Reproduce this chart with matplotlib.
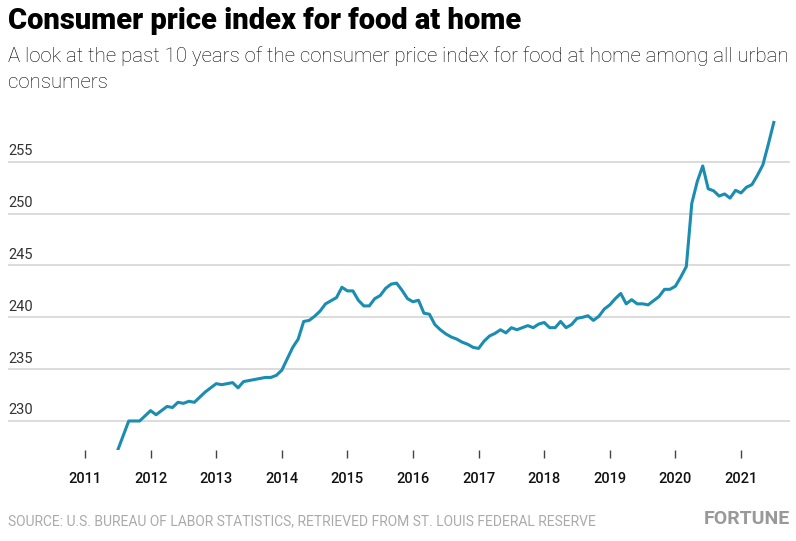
import numpy as np
import matplotlib
matplotlib.use("Agg")
import matplotlib.pyplot as plt
import matplotlib.transforms as mtransforms

# ----------------------------------------------------------------------------------------------------------------------
# CPI food at home, monthly, Jul 2011 - Jul 2021
cpi_2011 = [227.2, 228.6, 230.0, 230.0, 230.0, 230.5]
cpi_2012 = [231.0, 230.6, 231.0, 231.4, 231.3, 231.8, 231.7, 231.9, 231.8, 232.3, 232.8, 233.2]
cpi_2013 = [233.6, 233.5, 233.6, 233.7, 233.2, 233.8, 233.9, 234.0, 234.1, 234.2, 234.2, 234.4]
cpi_2014 = [234.9, 236.0, 237.1, 237.9, 239.6, 239.7, 240.1, 240.6, 241.3, 241.6, 241.9, 242.9]
cpi_2015 = [242.55, 242.55, 241.65, 241.1, 241.1, 241.8, 242.1, 242.8, 243.2, 243.3, 242.6, 241.8]
cpi_2016 = [241.5, 241.65, 240.4, 240.3, 239.3, 238.8, 238.4, 238.1, 237.9, 237.6, 237.4, 237.1]
cpi_2017 = [237.0, 237.7, 238.2, 238.45, 238.8, 238.5, 239.0, 238.8, 239.0, 239.2, 239.0, 239.35]
cpi_2018 = [239.5, 239.0, 239.0, 239.6, 239.0, 239.3, 239.9, 240.0, 240.15, 239.7, 240.1, 240.8]
cpi_2019 = [241.2, 241.8, 242.3, 241.3, 241.7, 241.3, 241.3, 241.2, 241.6, 242.0, 242.7, 242.7]
cpi_2020 = [243.0, 243.9, 244.9, 251.0, 253.1, 254.6, 252.4, 252.2, 251.7, 251.9, 251.5, 252.25]
cpi_2021 = [252.0, 252.55, 252.8, 253.7, 254.7, 256.7, 258.8]

start_year = 2011
start_month = 7
year_ticks = list(range(2011, 2022))
y_ticks = [230, 235, 240, 245, 250, 255]

title = "Consumer price index for food at home"
subtitle = ("A look at the past 10 years of the consumer price index for food at home among all urban\n"
            "consumers")
source = "SOURCE: U.S. BUREAU OF LABOR STATISTICS, RETRIEVED FROM ST. LOUIS FEDERAL RESERVE"

# ----------------------------------------------------------------------------------------------------------------------
cpi = np.array(cpi_2011 + cpi_2012 + cpi_2013 + cpi_2014 + cpi_2015 + cpi_2016
               + cpi_2017 + cpi_2018 + cpi_2019 + cpi_2020 + cpi_2021)
months = np.arange(len(cpi)) + (start_month - 1)
dates = start_year + months / 12.0

LINE_COLOR = "#1a8db1"
GRID_COLOR = "#d9d9d9"

fig = plt.figure(figsize=(7.96, 5.41), dpi=100)
ax = fig.add_axes([8 / 796, 1 - 450 / 541, 782 / 796, 340 / 541])

# Horizontal gridlines with labels sitting above them
label_tf = mtransforms.blended_transform_factory(ax.transAxes, ax.transData)
for val in y_ticks:
    ax.axhline(val, color=GRID_COLOR, lw=1.3, zorder=1)
    ax.text(0.0, val + 0.35, str(val), transform=label_tf, ha="left", va="bottom",
            fontsize=10.5, color="#333333", family="Roboto")

ax.plot(dates, cpi, color=LINE_COLOR, lw=2.2, solid_joinstyle="round", zorder=3)

ax.set_xlim(2011 - 77 / 65.6, 2011 + 705 / 65.6)
ax.set_ylim(227.2, 260.0)

# Axis cosmetics | only short year ticks along the bottom
for side in ["top", "right", "left", "bottom"]:
    ax.spines[side].set_visible(False)
ax.set_yticks([])
ax.set_xticks(year_ticks)
ax.set_xticklabels([str(y) for y in year_ticks], fontsize=10.5, family="Roboto",
                   fontweight="medium", color="#111111")
ax.tick_params(axis="x", length=6, width=1, color="#444444", pad=10)

# Header & footer text
fig.text(8 / 796, 1 - 7 / 541, title, ha="left", va="top", fontsize=21,
         fontweight="heavy", family="Roboto", color="#000000")
fig.text(8 / 796, 1 - 46 / 541, subtitle, ha="left", va="top", fontsize=14.7,
         family="Roboto", fontweight="light", color="#000000", linespacing=1.48)
fig.text(8 / 796, 1 - 521 / 541, source, ha="left", va="center", fontsize=10,
         family="Roboto", color="#aaaaaa")
fig.text(790 / 796, 1 - 519 / 541, "FORTUNE", ha="right", va="center", fontsize=14,
         family="Roboto", fontweight="bold", color="#999999")

fig.savefig("out.png", dpi=100)
